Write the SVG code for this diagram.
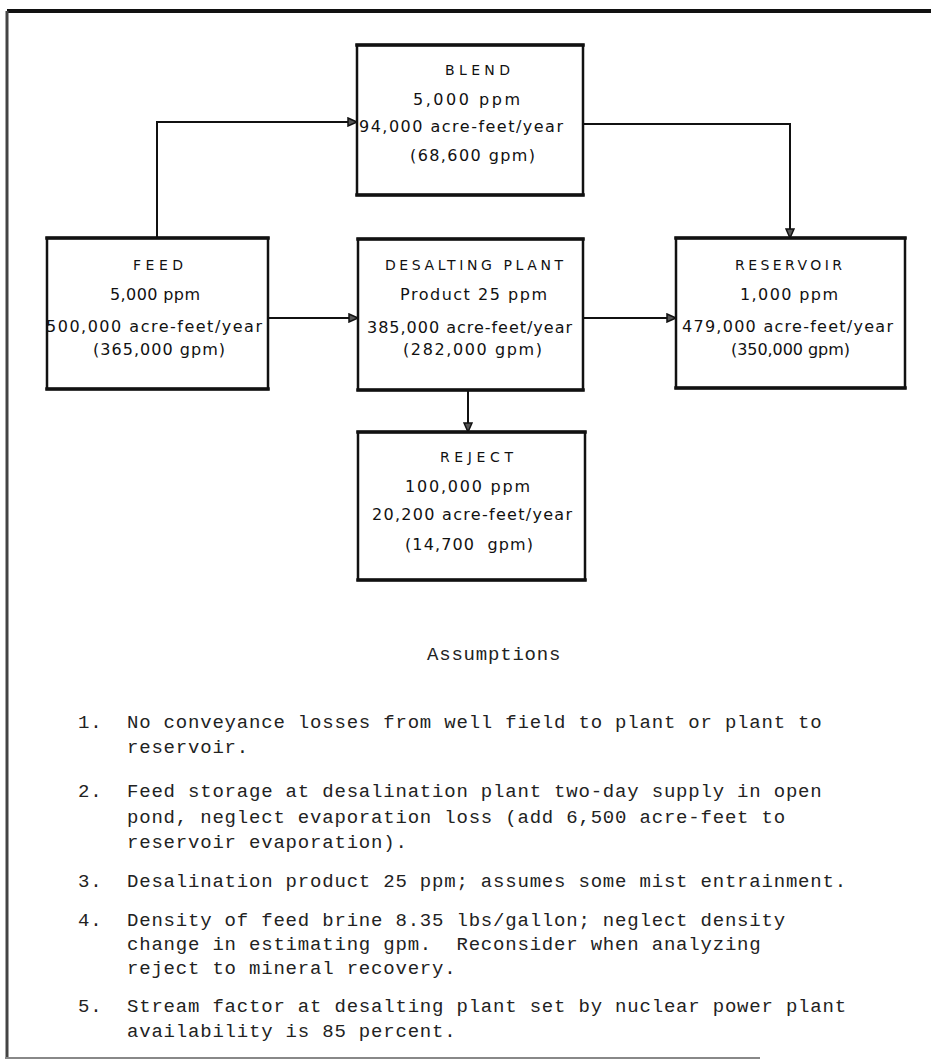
<svg xmlns="http://www.w3.org/2000/svg" width="931" height="1062" viewBox="0 0 931 1062">
<style>
.box{fill:#fff;stroke:#111;stroke-width:2.5}
.edge{stroke:#111;stroke-width:3.5;stroke-linecap:square}
.title{font-family:"DejaVu Sans",sans-serif;font-size:14px;fill:#111}
.val{font-family:"DejaVu Sans",sans-serif;font-size:16px;fill:#111;white-space:pre}
.conn{fill:none;stroke:#111;stroke-width:2}
.tw{font-family:"Liberation Mono",monospace;font-size:19px;letter-spacing:0.8px;fill:#222;white-space:pre}
</style>
<defs>
<marker id="arr" markerWidth="12" markerHeight="10" refX="10" refY="5" orient="auto" markerUnits="userSpaceOnUse">
<path d="M1,1 L10,5 L1,9 Z" fill="#555" stroke="#111" stroke-width="1.5"/>
</marker>
</defs>
<rect width="931" height="1062" fill="#fff"/>
<g id="frame">
<line x1="7" y1="11" x2="931" y2="11" stroke="#111" stroke-width="4"/>
<line x1="7" y1="11" x2="7" y2="1058" stroke="#444" stroke-width="3"/>
<line x1="5" y1="1058" x2="760" y2="1058" stroke="#888" stroke-width="2"/>
</g>
<g id="connectors">
<polyline class="conn" points="157,238 157,122 357,122" marker-end="url(#arr)"/>
<polyline class="conn" points="583,124 790,124 790,238" marker-end="url(#arr)"/>
<line class="conn" x1="268" y1="318" x2="358" y2="318" marker-end="url(#arr)"/>
<line class="conn" x1="583" y1="318" x2="676" y2="318" marker-end="url(#arr)"/>
<line class="conn" x1="468" y1="390" x2="468" y2="432" marker-end="url(#arr)"/>
</g>
<g id="blend">
<rect class="box" x="357" y="45" width="226" height="150"/>
<line class="edge" x1="357" y1="45" x2="583" y2="45"/>
<line class="edge" x1="357" y1="195" x2="583" y2="195"/>
<text class="title" x="445" y="75" textLength="65" lengthAdjust="spacing">BLEND</text>
<text class="val" x="413" y="105" textLength="107" lengthAdjust="spacing">5,000 ppm</text>
<text class="val" x="359" y="132" textLength="204" lengthAdjust="spacing">94,000 acre-feet/year</text>
<text class="val" x="410" y="161" textLength="125" lengthAdjust="spacing">(68,600 gpm)</text>
</g>
<g id="feed">
<rect class="box" x="47" y="238" width="221" height="151"/>
<line class="edge" x1="47" y1="238" x2="268" y2="238"/>
<line class="edge" x1="47" y1="389" x2="268" y2="389"/>
<text class="title" x="133" y="270" textLength="50" lengthAdjust="spacing">FEED</text>
<text class="val" x="110" y="300" textLength="90" lengthAdjust="spacing">5,000 ppm</text>
<text class="val" x="46" y="332" textLength="216" lengthAdjust="spacing">500,000 acre-feet/year</text>
<text class="val" x="93" y="355" textLength="132" lengthAdjust="spacing">(365,000 gpm)</text>
</g>
<g id="desalting">
<rect class="box" x="358" y="239" width="225" height="151"/>
<line class="edge" x1="358" y1="239" x2="583" y2="239"/>
<line class="edge" x1="358" y1="390" x2="583" y2="390"/>
<text class="title" x="385" y="270" textLength="178" lengthAdjust="spacing">DESALTING PLANT</text>
<text class="val" x="400" y="300" textLength="147" lengthAdjust="spacing">Product 25 ppm</text>
<text class="val" x="367" y="333" textLength="205" lengthAdjust="spacing">385,000 acre-feet/year</text>
<text class="val" x="403" y="355" textLength="139" lengthAdjust="spacing">(282,000 gpm)</text>
</g>
<g id="reservoir">
<rect class="box" x="676" y="238" width="229" height="150"/>
<line class="edge" x1="676" y1="238" x2="905" y2="238"/>
<line class="edge" x1="676" y1="388" x2="905" y2="388"/>
<text class="title" x="735" y="270" textLength="107" lengthAdjust="spacing">RESERVOIR</text>
<text class="val" x="740" y="300" textLength="98" lengthAdjust="spacing">1,000 ppm</text>
<text class="val" x="682" y="332" textLength="211" lengthAdjust="spacing">479,000 acre-feet/year</text>
<text class="val" x="731" y="355" textLength="119" lengthAdjust="spacing">(350,000 gpm)</text>
</g>
<g id="reject">
<rect class="box" x="358" y="432" width="227" height="148"/>
<line class="edge" x1="358" y1="432" x2="585" y2="432"/>
<line class="edge" x1="358" y1="580" x2="585" y2="580"/>
<text class="title" x="440" y="462" textLength="73" lengthAdjust="spacing">REJECT</text>
<text class="val" x="405" y="492" textLength="125" lengthAdjust="spacing">100,000 ppm</text>
<text class="val" x="372" y="520" textLength="200" lengthAdjust="spacing">20,200 acre-feet/year</text>
<text class="val" x="405" y="550" textLength="128" lengthAdjust="spacing">(14,700  gpm)</text>
</g>
<g id="assumptions">
<text class="tw" x="427" y="660">Assumptions</text>
<text class="tw" x="78" y="728">1.</text>
<text class="tw" x="127" y="728">No conveyance losses from well field to plant or plant to</text>
<text class="tw" x="127" y="753">reservoir.</text>
<text class="tw" x="78" y="797">2.</text>
<text class="tw" x="127" y="797">Feed storage at desalination plant two-day supply in open</text>
<text class="tw" x="127" y="823">pond, neglect evaporation loss (add 6,500 acre-feet to</text>
<text class="tw" x="127" y="848">reservoir evaporation).</text>
<text class="tw" x="78" y="887">3.</text>
<text class="tw" x="127" y="887">Desalination product 25 ppm; assumes some mist entrainment.</text>
<text class="tw" x="78" y="926">4.</text>
<text class="tw" x="127" y="926">Density of feed brine 8.35 lbs/gallon; neglect density</text>
<text class="tw" x="127" y="950">change in estimating gpm.  Reconsider when analyzing</text>
<text class="tw" x="127" y="974">reject to mineral recovery.</text>
<text class="tw" x="78" y="1012">5.</text>
<text class="tw" x="127" y="1012">Stream factor at desalting plant set by nuclear power plant</text>
<text class="tw" x="127" y="1037">availability is 85 percent.</text>
</g>
</svg>
